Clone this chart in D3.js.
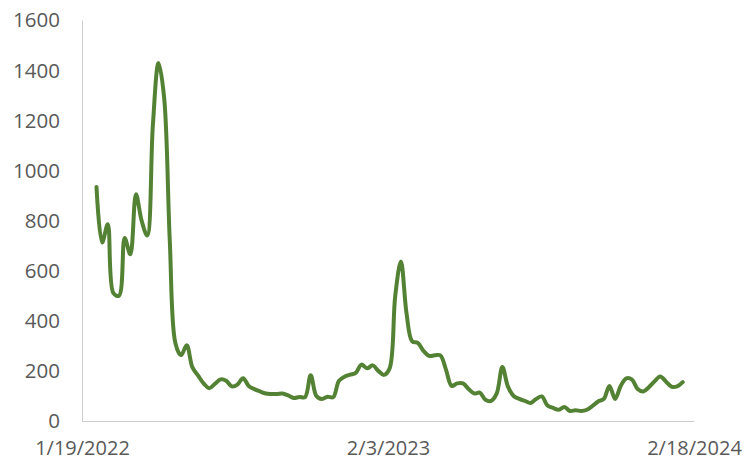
<!DOCTYPE html>
<html>
<head>
<meta charset="utf-8">
<script src="https://cdn.jsdelivr.net/npm/d3@7"></script>
<style>
  html, body { margin: 0; padding: 0; background: #ffffff; }
  svg { display: block; }
  .axis text { font-family: "Open Sans", "Noto Sans", sans-serif; font-size: 20.5px; fill: #595959; }
  .axis.x-axis text { font-size: 20px; }
  .axis path { stroke: #cccccc; stroke-width: 1; }
</style>
</head>
<body>
<svg id="chart" width="748" height="462"></svg>
<script>
// Weekly series, first reading on the start date below
const startDate = new Date(2022, 1, 6);
const values = [
  934, 712, 785, 510, 500, 730, 665, 905, 800, 740,
  1180, 1428, 1290, 720, 310, 262, 302, 215, 182, 150,
  131, 148, 166, 161, 138, 145, 171, 140, 127, 118,
  110, 108, 108, 110, 102, 92, 96, 95, 183, 100,
  88, 97, 95, 160, 177, 185, 192, 225, 210, 222,
  200, 184, 210, 500, 636, 430, 318, 312, 280, 260,
  262, 262, 205, 140, 150, 150, 128, 110, 113, 85,
  80, 110, 215, 137, 100, 88, 80, 72, 88, 98,
  62, 52, 45, 56, 40, 43, 40, 45, 60, 78,
  88, 140, 88, 140, 170, 165, 128, 118, 135, 158,
  178, 158, 137, 138, 155
];

// Axis extent and labels
const xDomain = [new Date(2022, 0, 19), new Date(2024, 1, 18)];
const xTickDates = [new Date(2022, 0, 19), new Date(2023, 1, 3), new Date(2024, 1, 18)];
const yTicks = [0, 200, 400, 600, 800, 1000, 1200, 1400, 1600];

const dates = values.map((_, i) => d3.timeDay.offset(startDate, 7 * i));
const series = values.map((v, i) => ({ date: dates[i], value: v }));

const svg = d3.select("#chart");
const plotLeft = 82, plotRight = 694, plotTop = 20, plotBottom = 421;

const x = d3.scaleTime().domain(xDomain).range([plotLeft, plotRight]);
const y = d3.scaleLinear().domain([0, 1600]).range([plotBottom, plotTop]);

// Value axis
svg.append("g")
  .attr("class", "axis y-axis")
  .attr("transform", `translate(${plotLeft},0)`)
  .call(d3.axisLeft(y).tickValues(yTicks).tickSize(0).tickPadding(22).tickFormat(d3.format("d")))
  .call(g => g.selectAll("text").attr("dy", "0.34em"));

// Date axis
svg.append("g")
  .attr("class", "axis x-axis")
  .attr("transform", `translate(0,${plotBottom})`)
  .call(d3.axisBottom(x).tickValues(xTickDates).tickSize(0).tickPadding(20)
    .tickFormat(d3.timeFormat("%-m/%-d/%Y")));

// Series line
const line = d3.line()
  .x(d => x(d.date))
  .y(d => y(d.value))
  .curve(d3.curveCatmullRom.alpha(0.5));

svg.append("path")
  .datum(series)
  .attr("fill", "none")
  .attr("stroke", "#548235")
  .attr("stroke-width", 4)
  .attr("stroke-linejoin", "round")
  .attr("stroke-linecap", "round")
  .attr("d", line);
</script>
</body>
</html>
